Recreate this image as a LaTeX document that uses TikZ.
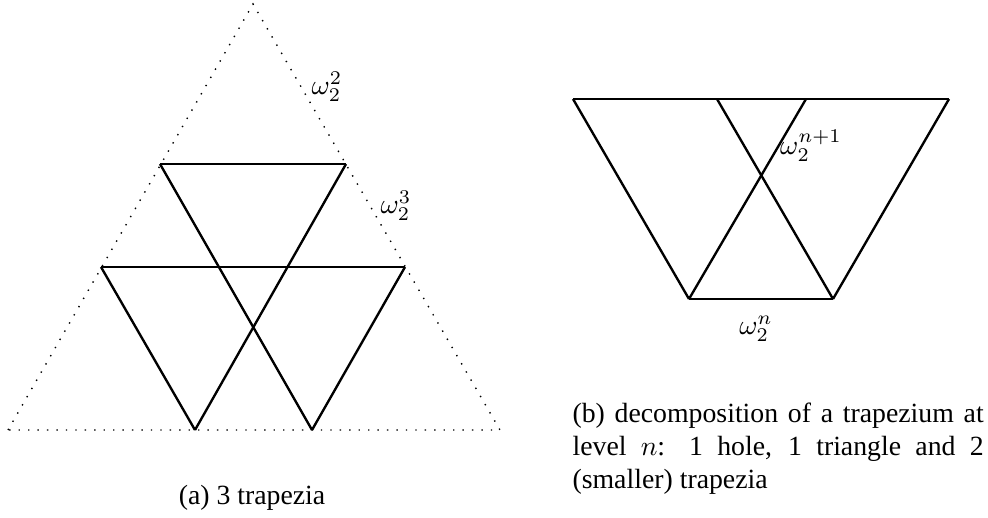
\documentclass[tikz,border=0pt]{standalone}
\usepackage{fontspec}
\setmainfont{Liberation Serif}
\begin{document}
\begin{tikzpicture}[x=0.36pt,y=-0.36pt,
  solidline/.style={line width=0.85pt, line join=miter},
  dotline/.style={line width=0.5pt, dash pattern=on 0.5pt off 2.9pt},
  lbl/.style={inner sep=0pt, font=\fontsize{10}{12}\selectfont},
  capt/.style={inner sep=0pt, font=\fontsize{10}{12}\selectfont}]
\path[use as bounding box] (0,0) rectangle (988,518);
% ---- (a) ----
\coordinate (A) at (253,4);
\coordinate (B) at (8,430);
\coordinate (C) at (500,430);
\draw[dotline] (B) -- (A) -- (C) -- (B);
\coordinate (t1) at (160,164);
\coordinate (t2) at (346,164);
\coordinate (m1) at (101,267);
\coordinate (m2) at (405,267);
\coordinate (b1) at (195,430);
\coordinate (b2) at (312,430);
\draw[solidline] (t1) -- (t2);
\draw[solidline] (m1) -- (m2);
\draw[solidline] (t1) -- (b2);
\draw[solidline] (t2) -- (b1);
\draw[solidline] (m1) -- (b1);
\draw[solidline] (m2) -- (b2);
\node[lbl] (l22) at (327,87) {$\omega_2^2$};
\node[lbl] (l23) at (396,206) {$\omega_2^3$};
\node[capt, anchor=base] (capa) at (252,505) {(a) 3 trapezia};
% ---- (b) ----
\coordinate (p1) at (573,99);
\coordinate (p2) at (717,99);
\coordinate (p3) at (806,99);
\coordinate (p4) at (949,99);
\coordinate (q1) at (689,299);
\coordinate (q2) at (833,299);
\draw[solidline] (p1) -- (p4);
\draw[solidline] (q1) -- (q2);
\draw[solidline] (p1) -- (q1);
\draw[solidline] (p4) -- (q2);
\draw[solidline] (p2) -- (q2);
\draw[solidline] (p3) -- (q1);
\node[lbl] (ln1) at (811,146) {$\omega_2^{n+1}$};
\node[lbl] (ln) at (756,329) {$\omega_2^{n}$};
\node[capt, anchor=north west, text width=148pt, align=justify] (capb) at (572,402)
  {(b) decomposition of a trapezium at\linebreak level $n$: 1 hole, 1 triangle and 2\linebreak (smaller) trapezia};
\end{tikzpicture}
\end{document}
